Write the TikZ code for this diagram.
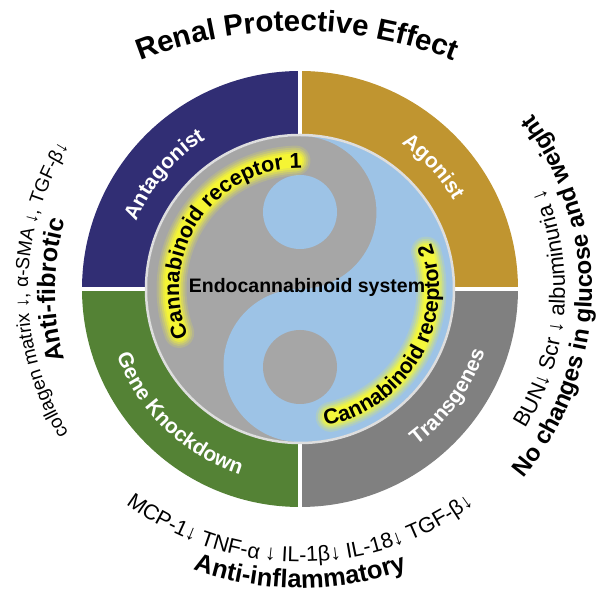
\documentclass[tikz,border=0pt]{standalone}
\usepackage{fontspec}
\setmainfont{Liberation Sans}
\usetikzlibrary{decorations.text}
\definecolor{navy}{RGB}{49,46,116}
\definecolor{gold}{RGB}{192,149,48}
\definecolor{kgreen}{RGB}{84,130,53}
\definecolor{tgray}{RGB}{128,128,128}
\definecolor{yygray}{RGB}{166,166,166}
\definecolor{yyblue}{RGB}{157,195,230}
\definecolor{glowy}{RGB}{255,255,40}
\definecolor{rimgray}{RGB}{222,222,222}
\newcommand\fTitle{\fontsize{29.5}{33}\selectfont\bfseries}
\newcommand\fBold{\fontsize{24}{28}\selectfont\bfseries}
\newcommand\fReg{\fontsize{21.5}{25}\selectfont}
\newcommand\fQuad{\fontsize{21}{25}\selectfont\bfseries}
\newcommand\fRec{\fontsize{21.5}{25}\selectfont\bfseries}
\tikzset{
  arctext/.style={decorate, decoration={text along path, text align=center}},
  whitetext/.style={decoration={text color=white}},
  glowband/.style={glowy, line cap=round},
  gapline/.style={white, line width=4.5pt},
}
\begin{document}
\begin{tikzpicture}[x=1pt,y=1pt]
\useasboundingbox (0,0) rectangle (598,594);
\fill[white] (0,0) rectangle (598,594);

% ---------- main circle ----------
\begin{scope}[shift={(300,305)}]
  \coordinate (C) at (0,0);
  \fill[navy]   (C) -- (90:218)  arc[start angle=90,  end angle=180, radius=218pt] -- cycle;
  \fill[gold]   (C) -- (0:218)   arc[start angle=0,   end angle=90,  radius=218pt] -- cycle;
  \fill[kgreen] (C) -- (180:218) arc[start angle=180, end angle=270, radius=218pt] -- cycle;
  \fill[tgray]  (C) -- (270:218) arc[start angle=270, end angle=360, radius=218pt] -- cycle;
  \draw[gapline] (0,-222) -- (0,222);
  \draw[gapline] (-222,0) -- (222,0);

  % yin-yang
  \fill[yygray] (C) circle[radius=153pt];
  \fill[yyblue] (0,153) arc[start angle=90, end angle=-90, radius=76.5pt]
                arc[start angle=90, end angle=270, radius=76.5pt]
                arc[start angle=-90, end angle=90, radius=153pt] -- cycle;
  \fill[yyblue] (0,77) circle[radius=37pt];
  \fill[yygray] (0,-78) circle[radius=37pt];
  \draw[rimgray, line width=2.5pt] (C) circle[radius=154pt];

  % glow bands behind receptor labels
  \foreach \w/\o in {30/0.15, 26/0.2, 22/0.3, 18/0.45, 14/0.6}{
    \draw[glowband, line width=\w pt, opacity=\o] (200:128.5) arc[start angle=200, end angle=92, radius=128.5pt];
    \draw[glowband, line width=\w pt, opacity=\o] (-76.5:131.5) arc[start angle=-76.5, end angle=16.5, radius=131.5pt];
  }

  % receptor labels
  \path[arctext, decoration={text={|\fRec|Cannabinoid receptor 1}}]
    (211:121) arc[start angle=211, end angle=81, radius=121pt];
  \path[arctext, decoration={text={|\fRec|Cannabinoid receptor 2}}]
    (-90:139) arc[start angle=-90, end angle=30, radius=139pt];

  \node[font=\fontsize{19.5}{23}\selectfont\bfseries, inner sep=0pt] (ecs) at (7,2) {Endocannabinoid system};

  % quadrant labels
  \path[arctext, whitetext, decoration={text={|\fQuad|Antagonist}}]
    (180:177) arc[start angle=180, end angle=100, radius=177pt];
  \path[arctext, whitetext, decoration={text={|\fQuad|Agonist}}]
    (85:177) arc[start angle=85, end angle=0, radius=177pt];
  \path[arctext, whitetext, decoration={text={|\fQuad|Gene Knockdown}}]
    (176:195) arc[start angle=176, end angle=276, radius=195pt];
  \path[arctext, whitetext, decoration={text={|\fQuad|Transgenes}}]
    (-76:195) arc[start angle=-76, end angle=4, radius=195pt];
\end{scope}

% ---------- title ----------
\begin{scope}[shift={(297,135)}]
  \path[arctext, decoration={text={|\fTitle|Renal Protective Effect}}]
    (118:428) arc[start angle=118, end angle=62, radius=428pt];
\end{scope}

% ---------- left and right ----------
\begin{scope}[shift={(300,304)}]
  \path[arctext, decoration={text={|\fontsize{25}{29}\selectfont\bfseries|Anti-fibrotic}}]
    (210:245) arc[start angle=210, end angle=150, radius=245pt];
  \path[arctext, decoration={text={|\fontsize{19}{22}\selectfont|collagen matrix ↓, α-SMA ↓, TGF-β↓}}]
    (225:272) arc[start angle=225, end angle=135, radius=272pt];
  \path[arctext, decoration={text={|\fontsize{22}{26}\selectfont|BUN↓ Scr ↓ albuminuria ↓}}]
    (-50:265) arc[start angle=-50, end angle=41, radius=265pt];
  \path[arctext, decoration={text={|\fBold|No changes in glucose and weight}}]
    (-55:292) arc[start angle=-55, end angle=52, radius=292pt];
\end{scope}

% ---------- bottom ----------
\begin{scope}[shift={(300,324)}]
  \path[arctext, decoration={text={|\fReg|MCP-1↓ TNF-α ↓ IL-1β↓ IL-18↓ TGF-β↓}}]
    (220:292) arc[start angle=220, end angle=320, radius=292pt];
  \path[arctext, decoration={text={|\fontsize{25.5}{29}\selectfont\bfseries|Anti-inflammatory}}]
    (230:318) arc[start angle=230, end angle=310, radius=318pt];
\end{scope}
\end{tikzpicture}
\end{document}
